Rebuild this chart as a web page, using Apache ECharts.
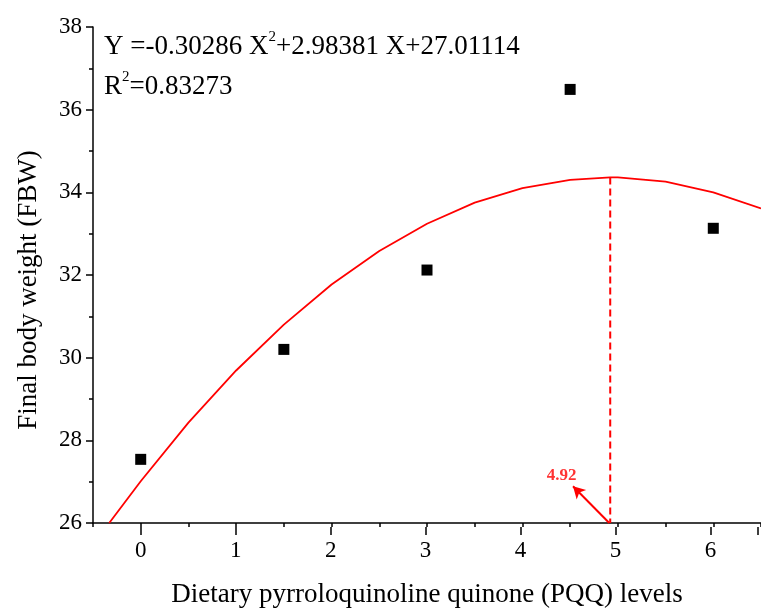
<!DOCTYPE html>
<html><head><meta charset="utf-8">
<script src="https://cdn.jsdelivr.net/npm/echarts@6/dist/echarts.min.js"></script>
<style>html,body{margin:0;padding:0;background:#fff;overflow:hidden}#c{width:761px;height:613px}</style>
</head><body><div id="c"></div>
<script>
// Observed data points
const pqqLevels = [0, 1.5, 3, 4.5, 6];
const fbwValues = [27.54, 30.20, 32.12, 36.49, 33.13];
// Fitted curve
const fitX = [-0.33, 0, 0.5, 1, 1.5, 2, 2.5, 3, 3.5, 4, 4.5, 4.92, 5, 5.5, 6, 6.5];
const fitY = [26.00, 27.01, 28.43, 29.69, 30.80, 31.77, 32.58, 33.24, 33.75, 34.10, 34.30, 34.36, 34.36, 34.26, 34.00, 33.61];
// Optimum marker
const optX = 4.92;
const optTop = 34.36;
const arrowStart = [4.91, 26.0];
const arrowEnd = [4.53, 26.89];
const optLabelPos = [4.41, 27.14];
const optLabel = '4.92';
const xTickLabels = ['0','1','2','3','4','5','6'];
const yTickLabels = ['26','28','30','32','34','36','38'];
const equationLines = ['Y =-0.30286 X', '2', '+2.98381 X+27.01114', 'R', '2', '=0.83273'];

const FONT = "'Liberation Serif','Times New Roman',serif";
const chart = echarts.init(document.getElementById('c'), null, {renderer: 'canvas', width: 761, height: 613});
const gridTop = 27, gridHeight = 500;
chart.setOption({
  animation: false,
  backgroundColor: '#fff',
  title: {
    left: 104, top: 27, padding: [0, 0, 0, 0],
    text: '{n|' + equationLines[0] + '}{s|' + equationLines[1] + '}{n|' + equationLines[2] + '}\n{n|' + equationLines[3] + '}{s|' + equationLines[4] + '}{n|' + equationLines[5] + '}',
    textStyle: {
      fontFamily: FONT, fontWeight: 'normal', color: '#000', fontSize: 27,
      rich: {
        n: {fontFamily: FONT, fontSize: 27, color: '#000', lineHeight: 40},
        s: {fontFamily: FONT, fontSize: 15, color: '#000', lineHeight: 40, verticalAlign: 'top', padding: [3, 0, 0, 0]}
      }
    }
  },
  grid: [
    {left: 93, width: 677, top: gridTop, height: gridHeight, containLabel: false},
    {left: 140.7, width: 629.4, top: gridTop, height: gridHeight, containLabel: false}
  ],
  xAxis: [
    {
      type: 'value', gridIndex: 0, min: -0.5, max: 6.5, interval: 0.5,
      axisLine: {show: true, onZero: false, lineStyle: {color: '#000', width: 1.5}},
      axisTick: {show: true, inside: false, length: 4, lineStyle: {color: '#000', width: 1.5}},
      axisLabel: {show: false},
      splitLine: {show: false},
      name: 'Dietary pyrroloquinoline quinone (PQQ) levels',
      nameLocation: 'middle', nameGap: 58,
      nameTextStyle: {fontFamily: FONT, fontSize: 27, color: '#000'}
    },
    {
      type: 'value', gridIndex: 1, min: 0, max: 6.5, interval: 1,
      axisLine: {show: false, onZero: false},
      axisTick: {show: true, inside: false, length: 8, lineStyle: {color: '#000', width: 1.5}},
      axisLabel: {show: true, margin: 12, fontFamily: FONT, fontSize: 23, color: '#000',
        formatter: function (v) { const i = Math.round(v); return (Math.abs(v - i) < 1e-6 && i >= 0 && i < xTickLabels.length) ? xTickLabels[i] : ''; }},
      splitLine: {show: false}
    }
  ],
  yAxis: [
    {
      type: 'value', gridIndex: 0, min: 26, max: 38, interval: 2,
      axisLine: {show: true, onZero: false, lineStyle: {color: '#000', width: 1.5}},
      axisTick: {show: true, inside: false, length: 7, lineStyle: {color: '#000', width: 1.5}},
      minorTick: {show: true, splitNumber: 2, length: 4, lineStyle: {color: '#000', width: 1.5}},
      axisLabel: {show: true, margin: 11, fontFamily: FONT, fontSize: 23, color: '#000',
        formatter: function (v) { const i = Math.round((v - 26) / 2); return yTickLabels[i] || ''; }},
      splitLine: {show: false},
      name: 'Final body weight (FBW)',
      nameLocation: 'middle', nameGap: 51, nameRotate: 90,
      nameTextStyle: {fontFamily: FONT, fontSize: 27, color: '#000', padding: [0, 30, 0, 0]}
    },
    {
      type: 'value', gridIndex: 1, min: 26, max: 38, show: false
    }
  ],
  series: [
    {
      type: 'line', xAxisIndex: 0, yAxisIndex: 0,
      data: fitX.map((x, i) => [x, fitY[i]]),
      smooth: false, showSymbol: false, symbol: 'none', clip: true,
      lineStyle: {color: '#ff0000', width: 1.8},
      z: 2
    },
    {
      type: 'line', xAxisIndex: 0, yAxisIndex: 0,
      data: [[optX, optTop], [optX, 26]],
      showSymbol: false, symbol: 'none',
      lineStyle: {color: '#ff0000', width: 2, type: [7, 4]},
      markLine: {
        silent: true, symbol: ['none', 'arrow'], symbolSize: [10, 12],
        lineStyle: {color: '#ff0000', width: 2, type: 'solid'},
        label: {show: false},
        data: [[{coord: arrowStart}, {coord: arrowEnd}]]
      },
      z: 2
    },
    {
      type: 'scatter', xAxisIndex: 0, yAxisIndex: 0,
      data: [optLabelPos], symbolSize: 0,
      label: {show: true, position: 'inside', formatter: optLabel,
        fontFamily: FONT, fontSize: 17, fontWeight: 'bold', color: '#ff0000'},
      z: 3
    },
    {
      type: 'scatter', xAxisIndex: 0, yAxisIndex: 0,
      data: pqqLevels.map((x, i) => [x, fbwValues[i]]),
      symbol: 'rect', symbolSize: 11,
      itemStyle: {color: '#000', opacity: 1},
      z: 4
    }
  ]
});
</script>
</body></html>
